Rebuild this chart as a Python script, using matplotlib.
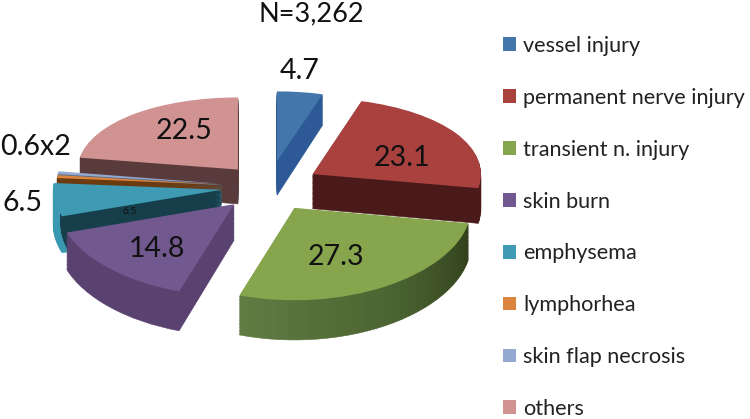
import matplotlib
matplotlib.use('Agg')
import matplotlib.pyplot as plt
import numpy as np
from matplotlib.patches import Wedge

plt.rcParams['font.family'] = ['Lato', 'DejaVu Sans']

labels = ['vessel injury', 'permanent nerve injury', 'transient n. injury', 'skin burn',
          'emphysema', 'lymphorhea', 'skin flap necrosis', 'others']
values = [4.7, 23.1, 27.3, 14.8, 6.5, 0.6, 0.6, 22.5]

top_colors = ['#4376ab', '#a9423f', '#87a54c', '#71588f', '#3f9ab3', '#db843d', '#93a9cf', '#d09392']
side_colors = ['#2d5a96', '#4a1a1a', '#4a6030', '#5a4270', '#3a98b0', '#6b3a10', '#5a6b85', '#5a3b3c']
explode = [0.33, 0.31, 0.30, 0.30, 0.29, 0.29, 0.29, 0.29]
# perspective makes the near slices look bigger
radius_scale = [0.95, 1.02, 1.07, 1.07, 1.02, 1.0, 1.0, 0.97]
# back to front
draw_rank = [0, 5, 7, 6, 4, 3, 2, 1]

cx, cy = 269, 187
rx, ry = 165, 80
k = 0.05
W, H = 750, 419


def forward(y):
    return y - k * np.asarray(y)**2


def inverse(v):
    return (1 - np.sqrt(np.maximum(1 - 4 * k * np.asarray(v), 1e-9))) / (2 * k)


fig = plt.figure(figsize=(7.5, 4.19), dpi=100)
ax = fig.add_axes([0, 0, 1, 1])

depths = np.linspace(0.43, 0, 29)[:-1]
green_ramp = plt.cm.colors.LinearSegmentedColormap.from_list('g', ['#607b42', '#4d6532', '#33421c'])

for n, d in enumerate(depths):
    wedges, _ = ax.pie(values, colors=side_colors, explode=explode, startangle=90,
                       counterclock=False, center=(0, -d))
    for i, w in enumerate(wedges):
        w.set_radius(w.r * radius_scale[i])
        w.set_zorder(draw_rank[i] + n / 100)
        w.set_edgecolor(side_colors[i])
        w.set_linewidth(0.4)

    # green rim fades left to right
    w = wedges[2]
    w.set_visible(False)
    th = np.linspace(w.theta1, w.theta2, 31)
    for j in range(30):
        c = green_ramp(j / 29)
        ax.add_patch(Wedge(w.center, w.r, th[j], th[j + 1], fc=c, ec=c, lw=0.4,
                           zorder=draw_rank[2] + n / 100))

    # emphysema: light rim, dark cut face
    w = wedges[4]
    ax.add_patch(Wedge(w.center, w.r * 0.955, w.theta1, w.theta2, fc='#173f4b', ec='#173f4b',
                       lw=0.4, zorder=draw_rank[4] + 0.5 + n / 1000))

top, _ = ax.pie(values, colors=top_colors, explode=explode, startangle=90, counterclock=False)
for i, w in enumerate(top):
    w.set_radius(w.r * radius_scale[i])
    w.set_zorder(draw_rank[i] + 0.9)

ax.set_yscale('function', functions=(forward, inverse))
ax.set_aspect('auto')
ax.set_xlim(-cx / rx, (W - cx) / rx)
ax.set_ylim(inverse((cy - H) / ry), inverse(cy / ry))
ax.axis('off')

ax.legend(top, labels, loc='upper left', bbox_to_anchor=(503 / W, 1 - 36 / H), frameon=False,
          fontsize=15.6, labelcolor='#222222', handlelength=0.6, handleheight=0.6,
          handletextpad=0.32, labelspacing=1.47, borderpad=0, borderaxespad=0)


def label(x, y, s, size):
    fig.text(x / W, 1 - y / H, s, fontsize=size, ha='center', va='center', color='#111111', zorder=20)


label(311, 14, 'N=3,262', 19.5)
label(300, 71, str(values[0]), 20.5)
label(402, 158, str(values[1]), 20.5)
label(336, 257, str(values[2]), 20.5)
label(157, 249, str(values[3]), 20.5)
label(184, 131, str(values[7]), 20.5)
label(22, 203, str(values[4]), 20.5)
label(36, 147, '0.6x2', 20.5)
label(130, 211, str(values[4]), 7.5)

fig.savefig('out.png', dpi=100)
